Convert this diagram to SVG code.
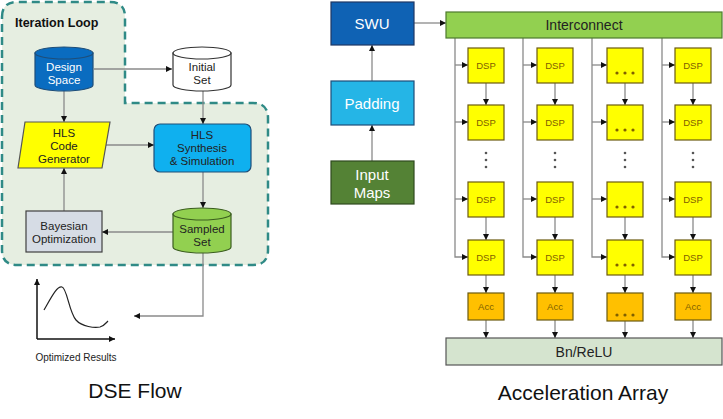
<svg xmlns="http://www.w3.org/2000/svg" width="723" height="419" viewBox="0 0 723 419">
<defs>
<marker id="ah" viewBox="0 0 10 10" refX="10" refY="5" markerWidth="6" markerHeight="6" markerUnits="userSpaceOnUse" orient="auto">
<path d="M0,0 L10,5 L0,10 Z" fill="#111"/>
</marker>
<style>
text{font-family:"Liberation Sans",Arial,sans-serif;text-anchor:middle}
.ln{stroke:#8a8a8a;stroke-width:1.3;fill:none}
.ar{stroke:#8a8a8a;stroke-width:1.3;fill:none;marker-end:url(#ah)}
.t11{font-size:11.5px;fill:#222}
.tw{font-size:11.5px;fill:#fff}
.dsp{fill:#ffff00;stroke:#6b5a10;stroke-width:1.2}
.acc{fill:#ffc000;stroke:#6b5a10;stroke-width:1.2}
.dt{font-size:9.5px;fill:#7f6000}
.dot{fill:#7f6000}
.vd{fill:#555}
.big{font-size:15px}
.title{font-size:21px;fill:#111}
</style>
</defs>
<rect width="723" height="419" fill="#fff"/>

<!-- Iteration loop region -->
<g id="iteration-loop">
<path d="M2,17 Q2,2 17,2 H110 Q125,2 125,17 V103 H253 Q268,103 268,118 V250 Q268,265 253,265 H17 Q2,265 2,250 Z" fill="#e6eee1" stroke="#2f8a86" stroke-width="2.5" stroke-dasharray="8,5"/>
<text x="15" y="27" style="text-anchor:start;font-size:12.5px;font-weight:bold;fill:#111">Iteration Loop</text>
</g>

<g id="connectors">
<!-- DSE flow -->
<line class="ar" x1="94" y1="69" x2="172" y2="69"/>
<line class="ar" x1="64" y1="91" x2="64" y2="122"/>
<line class="ar" x1="203" y1="91" x2="203" y2="124"/>
<line class="ar" x1="106" y1="145" x2="154" y2="145"/>
<line class="ar" x1="203" y1="172" x2="203" y2="208"/>
<line class="ar" x1="173" y1="232" x2="102" y2="232"/>
<line class="ar" x1="64" y1="211" x2="64" y2="168"/>
<polyline class="ar" points="203,253 203,316 134,316"/>
<!-- Acceleration array left -->
<line class="ar" x1="372" y1="161" x2="372" y2="125"/>
<line class="ar" x1="372" y1="81" x2="372" y2="45"/>
<line class="ar" x1="414" y1="23" x2="446" y2="23"/>
<!-- column buses -->
<polyline class="ar" points="455,38 455,257 468,257"/>
<polyline class="ar" points="523,38 523,257 537,257"/>
<polyline class="ar" points="592,38 592,257 607,257"/>
<polyline class="ar" points="662,38 662,257 675,257"/>
<g>
<line class="ar" x1="455" y1="65" x2="468" y2="65"/><line class="ar" x1="455" y1="122" x2="468" y2="122"/><line class="ar" x1="455" y1="199" x2="468" y2="199"/>
<line class="ar" x1="523" y1="65" x2="537" y2="65"/><line class="ar" x1="523" y1="122" x2="537" y2="122"/><line class="ar" x1="523" y1="199" x2="537" y2="199"/>
<line class="ar" x1="592" y1="65" x2="607" y2="65"/><line class="ar" x1="592" y1="122" x2="607" y2="122"/><line class="ar" x1="592" y1="199" x2="607" y2="199"/>
<line class="ar" x1="662" y1="65" x2="675" y2="65"/><line class="ar" x1="662" y1="122" x2="675" y2="122"/><line class="ar" x1="662" y1="199" x2="675" y2="199"/>
</g>
<!-- vertical arrows -->
<g>
<line class="ar" x1="486" y1="83" x2="486" y2="105"/><line class="ar" x1="486" y1="217" x2="486" y2="240"/><line class="ar" x1="486" y1="275" x2="486" y2="293"/><line class="ar" x1="486" y1="320" x2="486" y2="338"/>
<line class="ar" x1="555" y1="83" x2="555" y2="105"/><line class="ar" x1="555" y1="217" x2="555" y2="240"/><line class="ar" x1="555" y1="275" x2="555" y2="293"/><line class="ar" x1="555" y1="320" x2="555" y2="338"/>
<line class="ar" x1="625" y1="83" x2="625" y2="105"/><line class="ar" x1="625" y1="217" x2="625" y2="240"/><line class="ar" x1="625" y1="275" x2="625" y2="293"/><line class="ar" x1="625" y1="321" x2="625" y2="338"/>
<line class="ar" x1="693" y1="83" x2="693" y2="105"/><line class="ar" x1="693" y1="217" x2="693" y2="240"/><line class="ar" x1="693" y1="275" x2="693" y2="293"/><line class="ar" x1="693" y1="320" x2="693" y2="338"/>
</g>
</g>

<!-- DSE flow nodes -->
<g id="design-space">
<path d="M35,53 V85 A29,6 0 0 0 93,85 V53 Z" fill="#0a6cc0" stroke="#1f4e79" stroke-width="1.2"/>
<ellipse cx="64" cy="53" rx="29" ry="6" fill="#0a6cc0" stroke="#1f4e79" stroke-width="1.2"/>
<text class="tw" x="64" y="71">Design</text>
<text class="tw" x="64" y="84">Space</text>
</g>
<g id="initial-set">
<path d="M173,53 V85 A29,6 0 0 0 231,85 V53 Z" fill="#fff" stroke="#333" stroke-width="1.2"/>
<ellipse cx="202" cy="53" rx="29" ry="6" fill="#fff" stroke="#333" stroke-width="1.2"/>
<text class="t11" x="202" y="71">Initial</text>
<text class="t11" x="202" y="84">Set</text>
</g>
<g id="hls-code-generator">
<polygon points="25,122 110,122 102,168 18,168" fill="#ffff00" stroke="#555" stroke-width="1.2"/>
<text class="t11" x="64" y="137">HLS</text>
<text class="t11" x="64" y="150">Code</text>
<text class="t11" x="64" y="163">Generator</text>
</g>
<g id="hls-synthesis">
<rect x="154" y="124" width="97" height="48" rx="6" fill="#0fb0ef" stroke="#1f4e79" stroke-width="1.2"/>
<text class="t11" x="202" y="139">HLS</text>
<text class="t11" x="202" y="152">Synthesis</text>
<text class="t11" x="202" y="165">&amp; Simulation</text>
</g>
<g id="sampled-set">
<path d="M173,214 V247 A29,6 0 0 0 231,247 V214 Z" fill="#92d050" stroke="#3b5e1f" stroke-width="1.2"/>
<ellipse cx="202" cy="214" rx="29" ry="6" fill="#92d050" stroke="#3b5e1f" stroke-width="1.2"/>
<text class="t11" x="202" y="233">Sampled</text>
<text class="t11" x="202" y="246">Set</text>
</g>
<g id="bayesian-optimization">
<rect x="26" y="211" width="76" height="41" fill="#d6dce5" stroke="#404040" stroke-width="1.2"/>
<text class="t11" x="64" y="230">Bayesian</text>
<text class="t11" x="64" y="243">Optimization</text>
</g>
<g id="optimized-results">
<line x1="37" y1="339" x2="37" y2="279" stroke="#111" stroke-width="1.5" marker-end="url(#ah)"/>
<line x1="37" y1="339" x2="115" y2="339" stroke="#111" stroke-width="1.5" marker-end="url(#ah)"/>
<path d="M44,310 C52,296 57,286 62,287 C67,288 69,312 76,320 C82,327 95,328 100,327 C104,326 106,323 108,321" fill="none" stroke="#222" stroke-width="1.2"/>
<text x="76" y="361" style="font-size:10px;fill:#222">Optimized Results</text>
</g>
<text class="title" x="135" y="398">DSE Flow</text>

<!-- Acceleration array nodes -->
<g id="swu">
<rect x="331" y="2" width="83" height="43" fill="#0f62b4" stroke="#1f3864" stroke-width="1.2"/>
<text class="big" x="372" y="29" fill="#fff">SWU</text>
</g>
<g id="padding">
<rect x="331" y="81" width="83" height="44" fill="#25b5e6" stroke="#1f4e79" stroke-width="1.2"/>
<text class="big" x="372" y="109" fill="#fff">Padding</text>
</g>
<g id="input-maps">
<rect x="331" y="161" width="83" height="43" fill="#548235" stroke="#2f4a1e" stroke-width="1.2"/>
<text class="big" x="372" y="180" fill="#fff">Input</text>
<text class="big" x="372" y="198" fill="#fff">Maps</text>
</g>
<g id="interconnect">
<rect x="446" y="12" width="276" height="26" fill="#92d050" stroke="#4e7a2e" stroke-width="1.2"/>
<text x="584" y="30" style="font-size:14px;fill:#222">Interconnect</text>
</g>

<g id="col1">
<rect class="dsp" x="468" y="48" width="36" height="35"/><text class="dt" x="486" y="69">DSP</text>
<rect class="dsp" x="468" y="105" width="36" height="35"/><text class="dt" x="486" y="126">DSP</text>
<circle class="vd" cx="486" cy="153" r="1.3"/><circle class="vd" cx="486" cy="160" r="1.3"/><circle class="vd" cx="486" cy="167" r="1.3"/>
<rect class="dsp" x="468" y="182" width="36" height="35"/><text class="dt" x="486" y="203">DSP</text>
<rect class="dsp" x="468" y="240" width="36" height="35"/><text class="dt" x="486" y="261">DSP</text>
<rect class="acc" x="468" y="293" width="36" height="27"/><text class="dt" x="486" y="310">Acc</text>
</g>
<g id="col2">
<rect class="dsp" x="537" y="48" width="36" height="35"/><text class="dt" x="555" y="69">DSP</text>
<rect class="dsp" x="537" y="105" width="36" height="35"/><text class="dt" x="555" y="126">DSP</text>
<circle class="vd" cx="555" cy="153" r="1.3"/><circle class="vd" cx="555" cy="160" r="1.3"/><circle class="vd" cx="555" cy="167" r="1.3"/>
<rect class="dsp" x="537" y="182" width="36" height="35"/><text class="dt" x="555" y="203">DSP</text>
<rect class="dsp" x="537" y="240" width="36" height="35"/><text class="dt" x="555" y="261">DSP</text>
<rect class="acc" x="537" y="293" width="36" height="27"/><text class="dt" x="555" y="310">Acc</text>
</g>
<g id="col3">
<rect class="dsp" x="607" y="48" width="36" height="35"/>
<circle class="dot" cx="617" cy="73" r="1.6"/><circle class="dot" cx="625" cy="73" r="1.6"/><circle class="dot" cx="633" cy="73" r="1.6"/>
<rect class="dsp" x="607" y="105" width="36" height="35"/>
<circle class="dot" cx="617" cy="130" r="1.6"/><circle class="dot" cx="625" cy="130" r="1.6"/><circle class="dot" cx="633" cy="130" r="1.6"/>
<circle class="vd" cx="625" cy="153" r="1.3"/><circle class="vd" cx="625" cy="160" r="1.3"/><circle class="vd" cx="625" cy="167" r="1.3"/>
<rect class="dsp" x="607" y="182" width="36" height="35"/>
<circle class="dot" cx="617" cy="207" r="1.6"/><circle class="dot" cx="625" cy="207" r="1.6"/><circle class="dot" cx="633" cy="207" r="1.6"/>
<rect class="dsp" x="607" y="240" width="36" height="35"/>
<circle class="dot" cx="617" cy="265" r="1.6"/><circle class="dot" cx="625" cy="265" r="1.6"/><circle class="dot" cx="633" cy="265" r="1.6"/>
<rect class="acc" x="607" y="293" width="36" height="28"/>
<circle class="dot" cx="617" cy="315" r="1.6"/><circle class="dot" cx="625" cy="315" r="1.6"/><circle class="dot" cx="633" cy="315" r="1.6"/>
</g>
<g id="col4">
<rect class="dsp" x="675" y="48" width="36" height="35"/><text class="dt" x="693" y="69">DSP</text>
<rect class="dsp" x="675" y="105" width="36" height="35"/><text class="dt" x="693" y="126">DSP</text>
<circle class="vd" cx="693" cy="153" r="1.3"/><circle class="vd" cx="693" cy="160" r="1.3"/><circle class="vd" cx="693" cy="167" r="1.3"/>
<rect class="dsp" x="675" y="182" width="36" height="35"/><text class="dt" x="693" y="203">DSP</text>
<rect class="dsp" x="675" y="240" width="36" height="35"/><text class="dt" x="693" y="261">DSP</text>
<rect class="acc" x="675" y="293" width="36" height="27"/><text class="dt" x="693" y="310">Acc</text>
</g>
<g id="bn-relu">
<rect x="446" y="338" width="276" height="27" fill="#d5e4cf" stroke="#555" stroke-width="1.2"/>
<text x="584" y="357" style="font-size:14px;fill:#222">Bn/ReLU</text>
</g>
<text class="title" x="583" y="400">Acceleration Array</text>
</svg>
